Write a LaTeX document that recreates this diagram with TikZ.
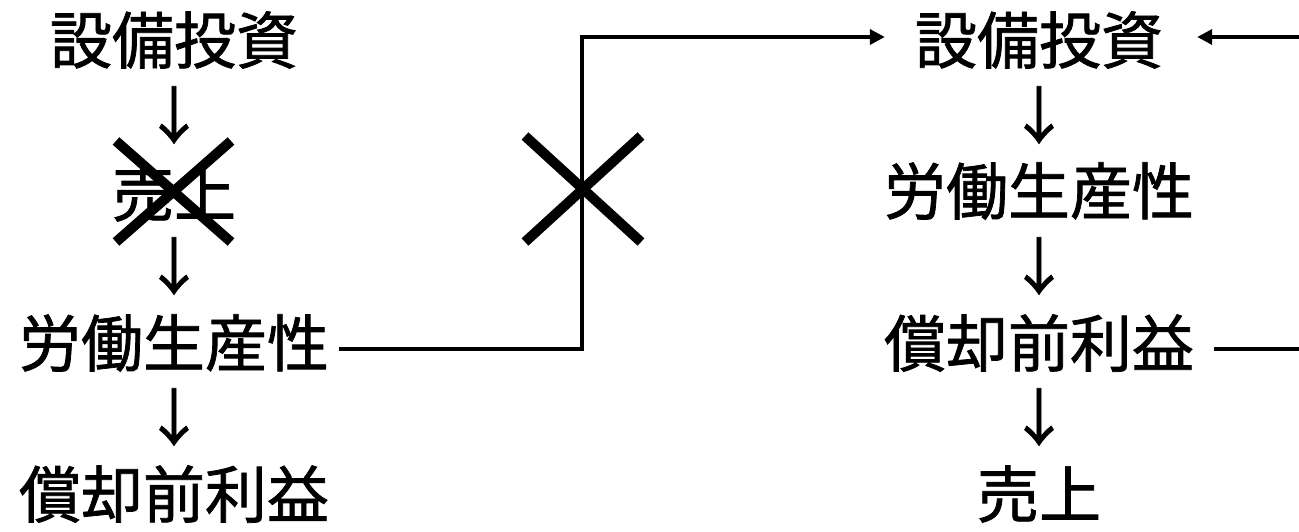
\documentclass[tikz,border=0pt]{standalone}
\usepackage{fontspec}
\setmainfont{Noto Sans CJK JP}[FakeBold=1.2]
\usetikzlibrary{arrows.meta}
\tikzset{
  lbl/.style={inner sep=0pt, font=\fontsize{62}{62}\selectfont},
  conn/.style={line width=3.5pt, -{Triangle[length=15pt,width=15pt]}},
  plain/.style={line width=3.5pt},
  crossmark/.style={line width=10pt, line cap=butt}
}
\begin{document}
\begin{tikzpicture}[x=1pt,y=-1pt]
\useasboundingbox (0,0) rectangle (1299,532);
% left column
\node[lbl] (L1) at (174,40) {設備投資};
\node[lbl] (La1) at (174,115) {↓};
\node[lbl] (L2) at (174,193) {売上};
\node[lbl] (La2) at (174,266) {↓};
\node[lbl] (L3) at (174,343) {労働生産性};
\node[lbl] (La3) at (174,417) {↓};
\node[lbl] (L4) at (174,494) {償却前利益};
% right column
\node[lbl] (R1) at (1039,40) {設備投資};
\node[lbl] (Ra1) at (1039,115) {↓};
\node[lbl] (R2) at (1039,191) {労働生産性};
\node[lbl] (Ra2) at (1039,266) {↓};
\node[lbl] (R3) at (1039,343) {償却前利益};
\node[lbl] (Ra3) at (1039,417) {↓};
\node[lbl] (R4) at (1039,494) {売上};
% connector from left to right
\coordinate (bendlow) at (582,349);
\coordinate (bendtop) at (582,37);
\draw[conn] ([xshift=10pt]L3.east |- bendlow) -- (bendlow) -- (bendtop) -- ([xshift=-30pt]R1.west |- bendtop);
% right side loop ends
\coordinate (edgetop) at (1299,37);
\coordinate (edgelow) at (1299,349);
\draw[conn] (edgetop) -- ([xshift=34pt]R1.east |- edgetop);
\draw[plain] ([xshift=20pt]R3.east |- edgelow) -- (edgelow);
% cross marks
\draw[crossmark] (116,141) -- (231,242) (116,242) -- (231,141);
\draw[crossmark] (525,136) -- (641,242) (525,242) -- (641,136);
\end{tikzpicture}
\end{document}
